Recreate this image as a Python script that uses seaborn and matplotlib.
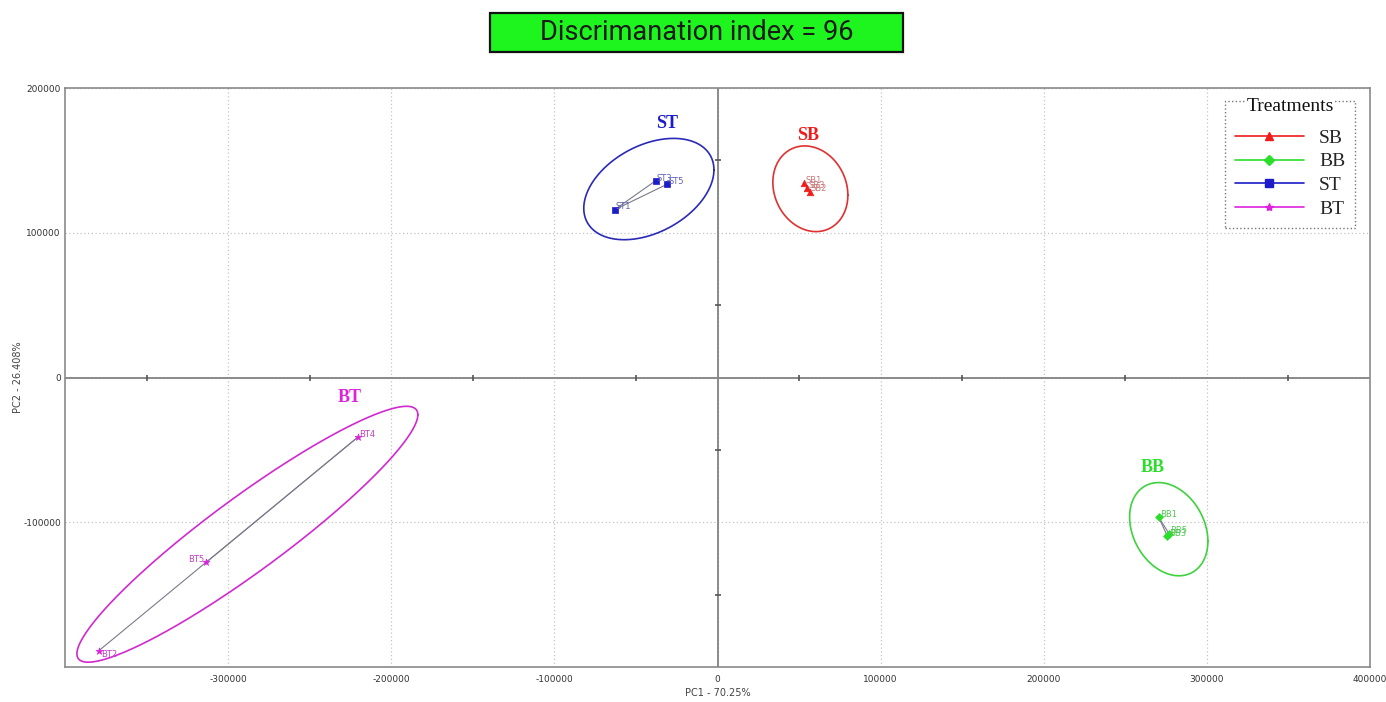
import numpy as np
import pandas as pd
import matplotlib
matplotlib.use("Agg")
import matplotlib.pyplot as plt
from matplotlib.lines import Line2D
from matplotlib.patches import Rectangle
import seaborn as sns

# ---- data -------------------------------------------------------------
treatments = ["SB", "BB", "ST", "BT"]

sample_names = ["SB1", "SB3", "SB2",
                "BB1", "BB3", "BB5",
                "ST1", "ST3", "ST5",
                "BT4", "BT5", "BT2"]
sample_group = ["SB"] * 3 + ["BB"] * 3 + ["ST"] * 3 + ["BT"] * 3
pc1 = [52900, 55000, 56400,
       270400, 275700, 276700,
       -63150, -38000, -30800,
       -220500, -313500, -379300]
pc2 = [134300, 130800, 128500,
       -96400, -109500, -107800,
       115900, 135900, 133600,
       -41200, -127800, -188800]

# confidence ellipses: centre, half-extent in PC1/PC2 and correlation
ell_cx = [56900, 276600, -42100, -288200]
ell_cy = [130400, -104800, 130200, -108300]
ell_rx = [23000, 24000, 39900, 104500]
ell_ry = [29600, 32200, 35000, 88400]
ell_rho = [-0.15, -0.26, 0.38, 0.934]

# group tag anchor positions
tag_x = [55800, 266700, -30700, -225600]
tag_y = [167000, -62000, 175200, -13800]

x_ticks = [-300000, -200000, -100000, 0, 100000, 200000, 300000, 400000]
y_ticks = [-100000, 0, 100000, 200000]

discrimination_index = 96

# ---- styling ----------------------------------------------------------
colors = {"SB": "#ee1c1c", "BB": "#2adf2a", "ST": "#1c1cc8", "BT": "#dd22dd"}
ell_colors = {"SB": "#e03030", "BB": "#3ed23e", "ST": "#2a2ab8", "BT": "#d02ad0"}
label_colors = {"SB": "#c87878", "BB": "#50c850", "ST": "#6060b0", "BT": "#c040c0"}
markers = {"SB": "^", "BB": "D", "ST": "s", "BT": "*"}
msizes = {"SB": 22, "BB": 16, "ST": 16, "BT": 26}

sns.set_theme(style="white")
plt.rcParams["font.family"] = ["DejaVu Sans"]

fig = plt.figure(figsize=(13.86, 7.02), dpi=100)
ax = fig.add_axes([0.0469, 0.0499, 0.9416, 0.8247])

df = pd.DataFrame({"sample": sample_names, "group": sample_group,
                   "PC1": pc1, "PC2": pc2})

# crosshair axes through the origin with half-step ticks
ax.axhline(0, color="#8a8a8a", lw=1.4, zorder=1)
ax.axvline(0, color="#8a8a8a", lw=1.4, zorder=1)
half_x = np.arange(-350000, 400000, 100000)
half_y = np.arange(-150000, 200000, 100000)
ax.plot(half_x, np.zeros_like(half_x), ls="none", marker="|", ms=4,
        mew=1.2, color="#555555", zorder=2)
ax.plot(np.zeros_like(half_y), half_y, ls="none", marker="_", ms=4,
        mew=1.2, color="#555555", zorder=2)

# lines from the first sample of each group to the others
for g in treatments:
    sub = df[df["group"] == g]
    x0, y0 = sub["PC1"].iloc[0], sub["PC2"].iloc[0]
    for xi, yi in zip(sub["PC1"].iloc[1:], sub["PC2"].iloc[1:]):
        ax.plot([x0, xi], [y0, yi], color="#7a7a8a", lw=0.8, zorder=3)

# ellipses
t = np.linspace(0, 2 * np.pi, 300)
for g, cx, cy, rx, ry, rho in zip(treatments, ell_cx, ell_cy, ell_rx, ell_ry, ell_rho):
    ex = cx + rx * np.cos(t)
    ey = cy + ry * (rho * np.cos(t) + np.sqrt(1 - rho ** 2) * np.sin(t))
    ax.plot(ex, ey, color=ell_colors[g], lw=1.2, zorder=3)

# sample points
for g in treatments:
    sub = df[df["group"] == g]
    sns.scatterplot(data=sub, x="PC1", y="PC2", color=colors[g],
                    marker=markers[g], s=msizes[g], edgecolor=colors[g],
                    linewidth=0.5, ax=ax, zorder=4, legend=False)

# sample labels
for _, r in df.iterrows():
    if r["sample"] == "BT5":
        off, ha = (-1, 2), "right"
    elif r["sample"] == "BT2":
        off, ha = (2, -3), "left"
    else:
        off, ha = (1, 2), "left"
    ax.annotate(r["sample"], (r["PC1"], r["PC2"]), xytext=off,
                textcoords="offset points", ha=ha, va="center",
                fontsize=6, color=label_colors[r["group"]], zorder=5)

# group tags
for g, x, y in zip(treatments, tag_x, tag_y):
    ax.text(x, y, g, color=colors[g], fontsize=13, fontweight="bold",
            family="Liberation Serif", ha="center", va="center")

# axes, grid, ticks
ax.set_xlim(-400000, 400000)
ax.set_ylim(-200000, 200000)
ax.set_xticks(x_ticks)
ax.set_yticks(y_ticks)
ax.set_xticklabels([str(v) for v in x_ticks])
ax.set_yticklabels([str(v) for v in y_ticks])
ax.tick_params(axis="both", length=0, labelsize=6.5, labelcolor="#333333")
ax.tick_params(axis="x", pad=6)
ax.tick_params(axis="y", pad=3)
ax.grid(True, color="#c4c4c4", lw=0.9, ls=(0, (1, 2)))
for s in ax.spines.values():
    s.set_color("#8a8a8a")
    s.set_linewidth(1.2)
ax.set_xlabel("PC1 - 70.25%", fontsize=7, color="#444444", labelpad=3)
ax.set_ylabel("PC2 - 26.408%", fontsize=7, color="#444444", labelpad=0)

# legend entries (frameless) inside a dotted box whose top edge runs
# through the "Treatments" heading
handles = [Line2D([0], [0], color=colors[g], lw=1.2, marker=markers[g],
                  markersize={"SB": 6, "BB": 5.5, "ST": 6, "BT": 6}[g],
                  markerfacecolor=colors[g], markeredgecolor=colors[g])
           for g in treatments]
leg = ax.legend(handles, treatments, loc="upper right",
                bbox_to_anchor=(0.9885, 0.946), frameon=False,
                borderaxespad=0, handlelength=3.5, handletextpad=0.8,
                labelspacing=0.32, borderpad=0.5,
                prop={"family": "Liberation Serif", "size": 14})
leg.set_zorder(7)

fig.canvas.draw()
W, H = fig.bbox.width, fig.bbox.height
lb = leg.get_window_extent()
box_x0, box_x1 = 1225, 1355
box_y0 = lb.y0
box_y1 = H - 101
ax.add_artist(Rectangle((box_x0 / W, box_y0 / H), (box_x1 - box_x0) / W,
                        (box_y1 - box_y0) / H, transform=fig.transFigure,
                        facecolor="white", edgecolor="#777777", ls=":",
                        lw=1.0, zorder=5, clip_on=False))
fig.text((box_x0 + box_x1) / 2 / W, box_y1 / H - 0.008, "Treatments",
         ha="center", va="center", fontsize=14, family="Liberation Serif",
         color="#111111", zorder=8,
         bbox=dict(facecolor="white", edgecolor="none", pad=1))

# title banner
fig.patches.append(Rectangle((0.3535, 0.9259), 0.298, 0.0556,
                             transform=fig.transFigure, facecolor="#1ef51e",
                             edgecolor="#111111", lw=1.6, zorder=0))
fig.text(0.5025, 0.9537, f"Discrimanation index = {discrimination_index}",
         ha="center", va="center", fontsize=19.5, color="#1a1a1a",
         family="Roboto")

fig.savefig("out.png", dpi=100)
